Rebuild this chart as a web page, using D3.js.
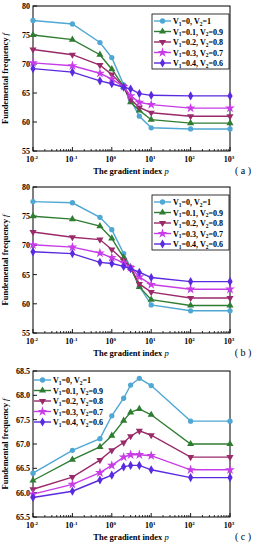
<!DOCTYPE html>
<html>
<head>
<meta charset="utf-8">
<script src="https://cdn.jsdelivr.net/npm/d3@7"></script>
<style>
  body { margin: 0; background: #fff; }
  svg { display: block; font-family: "Liberation Serif", "DejaVu Serif", serif; font-weight: bold; }
</style>
</head>
<body>
<div id="chart"></div>
<script>
// gradient index p (x values, log axis)
const pValues = [0.01, 0.1, 0.5, 1, 2, 3, 5, 10, 100, 1000];
const seriesNames = [
  ["0", "1"], ["0.1", "0.9"], ["0.2", "0.8"], ["0.3", "0.7"], ["0.4", "0.6"]
];
const seriesColors = ["#4fa7d3", "#2e7d32", "#9a2a6a", "#c83ce8", "#5a2ae0"];

// panel (a)
const freqA1 = [77.5, 76.9, 73.7, 71.1, 66.4, 63.8, 61.0, 59.0, 58.8, 58.8];
const freqA2 = [75.0, 74.2, 71.6, 69.1, 66.1, 63.4, 62.0, 60.4, 59.8, 59.8];
const freqA3 = [72.5, 71.6, 69.8, 68.2, 66.1, 63.9, 62.5, 61.6, 61.0, 61.0];
const freqA4 = [70.2, 69.7, 68.4, 67.4, 66.1, 64.5, 63.4, 63.0, 62.4, 62.4];
const freqA5 = [69.2, 68.6, 67.1, 66.6, 66.0, 65.7, 64.9, 64.6, 64.5, 64.5];

// panel (b)
const freqB1 = [77.5, 77.3, 74.8, 72.7, 68.6, 66.2, 63.0, 59.8, 58.8, 58.8];
const freqB2 = [75.0, 74.5, 73.3, 71.2, 67.9, 66.2, 62.9, 60.7, 59.7, 59.7];
const freqB3 = [72.3, 71.4, 71.0, 69.3, 67.4, 66.2, 63.4, 62.0, 61.0, 61.0];
const freqB4 = [70.1, 69.7, 68.7, 67.9, 67.0, 66.2, 64.6, 63.3, 62.5, 62.5];
const freqB5 = [68.9, 68.6, 67.1, 66.9, 66.4, 66.0, 65.4, 64.5, 63.8, 63.8];

// panel (c)
const freqC1 = [66.40, 66.87, 67.11, 67.58, 67.94, 68.21, 68.35, 68.20, 67.47, 67.47];
const freqC2 = [66.25, 66.68, 66.94, 67.17, 67.48, 67.65, 67.72, 67.60, 67.00, 67.00];
const freqC3 = [66.07, 66.32, 66.67, 66.87, 67.03, 67.16, 67.27, 67.18, 66.73, 66.73];
const freqC4 = [65.97, 66.17, 66.41, 66.56, 66.73, 66.78, 66.78, 66.76, 66.47, 66.47];
const freqC5 = [65.90, 66.03, 66.26, 66.36, 66.53, 66.56, 66.56, 66.47, 66.31, 66.31];

const yTicksAB = [55, 60, 65, 70, 75, 80];
const yTicksC = [65.5, 66.0, 66.5, 67.0, 67.5, 68.0, 68.5];
const xTickExps = [-2, -1, 0, 1, 2, 3];

const W = 254, H = 550;
const svg = d3.select("#chart").append("svg").attr("width", W).attr("height", H);

const symbols = [
  d3.symbol().type(d3.symbolCircle).size(22),
  d3.symbol().type(d3.symbolTriangle).size(22),
  d3.symbol().type(d3.symbolTriangle).size(22),
  d3.symbol().type(d3.symbolStar).size(30),
  d3.symbol().type(d3.symbolDiamond).size(24)
];
const symRotate = [0, 0, 180, 0, 0];

function legendLabel(g, names) {
  const t = g.append("text").attr("font-size", 8).attr("fill", "#000");
  t.append("tspan").text("V");
  t.append("tspan").attr("font-size", 5.5).attr("dy", 1.5).text("1");
  t.append("tspan").attr("dy", -1.5).text("=" + names[0] + ", V");
  t.append("tspan").attr("font-size", 5.5).attr("dy", 1.5).text("2");
  t.append("tspan").attr("dy", -1.5).text("=" + names[1]);
  return t;
}

function panel(top, bottom, yDomain, yTicks, yFmt, data, label, legendPos) {
  const x = d3.scaleLog().domain([0.01, 1000]).range([33, 230]);
  const y = d3.scaleLinear().domain(yDomain).range([bottom, top]);
  const g = svg.append("g");

  // minor log ticks on x axis
  const minors = [];
  for (let e = -2; e < 3; e++) for (let k = 2; k < 10; k++) minors.push(k * Math.pow(10, e));
  g.selectAll(".minor").data(minors).join("line")
    .attr("x1", d => x(d)).attr("x2", d => x(d))
    .attr("y1", bottom).attr("y2", bottom - 2)
    .attr("stroke", "#000").attr("stroke-width", 0.8);
  g.selectAll(".xmaj").data(xTickExps).join("line")
    .attr("x1", d => x(Math.pow(10, d))).attr("x2", d => x(Math.pow(10, d)))
    .attr("y1", bottom).attr("y2", bottom - 4)
    .attr("stroke", "#000").attr("stroke-width", 0.9);
  const xl = g.selectAll(".xlab").data(xTickExps).join("text")
    .attr("x", d => x(Math.pow(10, d)) - 1).attr("y", bottom + 11)
    .attr("text-anchor", "middle").attr("font-size", 8);
  xl.append("tspan").text("10");
  xl.append("tspan").attr("font-size", 5).attr("dy", -3.5).text(d => d);

  // y ticks
  g.selectAll(".ymaj").data(yTicks).join("line")
    .attr("x1", 33).attr("x2", 37)
    .attr("y1", d => y(d)).attr("y2", d => y(d))
    .attr("stroke", "#000").attr("stroke-width", 0.9);
  g.selectAll(".ylab").data(yTicks).join("text")
    .attr("x", 30).attr("y", d => y(d) + 3)
    .attr("text-anchor", "end").attr("font-size", 8)
    .text(yFmt);

  // frame
  g.append("rect").attr("x", 33).attr("y", top).attr("width", 197).attr("height", bottom - top)
    .attr("fill", "none").attr("stroke", "#000").attr("stroke-width", 1);

  // series
  const line = d3.line().x((d, i) => x(pValues[i])).y(d => y(d));
  data.forEach((s, si) => {
    g.append("path").datum(s).attr("d", line)
      .attr("fill", "none").attr("stroke", seriesColors[si]).attr("stroke-width", 1.4);
    g.selectAll(".m" + si).data(s).join("path")
      .attr("d", symbols[si])
      .attr("transform", (d, i) => `translate(${x(pValues[i])},${y(d)}) rotate(${symRotate[si]})`)
      .attr("fill", seriesColors[si]);
  });

  // legend
  const lg = g.append("g").attr("transform", `translate(${legendPos.x},${legendPos.y})`);
  if (legendPos.box) {
    lg.append("rect").attr("x", -2).attr("y", -7).attr("width", 77).attr("height", 55)
      .attr("fill", "#fff").attr("stroke", "#000").attr("stroke-width", 0.8);
  }
  seriesNames.forEach((n, i) => {
    const row = lg.append("g").attr("transform", `translate(0,${i * 10.5})`);
    row.append("line").attr("x1", 0).attr("x2", 17).attr("y1", 0).attr("y2", 0)
      .attr("stroke", seriesColors[i]).attr("stroke-width", 1.4);
    row.append("path").attr("d", symbols[i])
      .attr("transform", `translate(8.5,0) rotate(${symRotate[i]})`)
      .attr("fill", seriesColors[i]);
    legendLabel(row, n).attr("x", 19).attr("y", 3);
  });

  // axis titles
  const xt = g.append("text").attr("x", 131).attr("y", bottom + 23)
    .attr("text-anchor", "middle").attr("font-size", 8.5);
  xt.append("tspan").text("The gradient index ");
  xt.append("tspan").attr("font-style", "italic").attr("font-weight", "normal").text("p");

  const yt = g.append("text")
    .attr("transform", `translate(8,${(top + bottom) / 2}) rotate(-90)`)
    .attr("text-anchor", "middle").attr("font-size", 8.5);
  yt.append("tspan").text("Fundemental frequency ");
  yt.append("tspan").attr("font-style", "italic").attr("font-weight", "normal").text("f");

  g.append("text").attr("x", 243).attr("y", bottom + 23).attr("font-size", 10)
    .attr("text-anchor", "middle").attr("font-weight", "normal").text(label);
}

panel(6, 151, [55, 80], yTicksAB, d => d,
  [freqA1, freqA2, freqA3, freqA4, freqA5], "( a )", { x: 154, y: 21, box: true });
panel(187, 333, [55, 80], yTicksAB, d => d,
  [freqB1, freqB2, freqB3, freqB4, freqB5], "( b )", { x: 154, y: 202, box: true });
panel(371, 517, [65.5, 68.5], yTicksC, d3.format(".1f"),
  [freqC1, freqC2, freqC3, freqC4, freqC5], "( c )", { x: 34, y: 380, box: false });
</script>
</body>
</html>
